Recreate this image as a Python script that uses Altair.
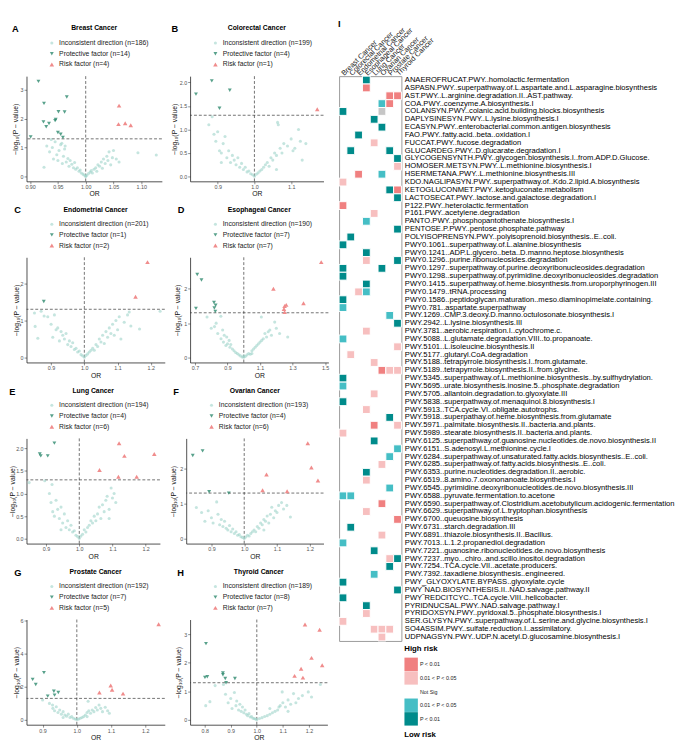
import altair as alt
import pandas as pd
import numpy as np

CANCERS = ["Breast Cancer", "Colorectal Cancer", "Endometrial Cancer", "Esophageal Cancer",
           "Lung Cancer", "Ovarian Cancer", "Prostate Cancer", "Thyroid Cancer"]
LETTERS = ["A", "B", "C", "D", "E", "F", "G", "H"]
N_INC = [186, 199, 201, 190, 194, 193, 192, 189]
N_PROT = [14, 4, 1, 7, 4, 4, 7, 8]
N_RISK = [4, 1, 2, 7, 6, 6, 5, 7]
P_THRESHOLD = 0.05

# ---------------- volcano data: (OR, -log10 P) ----------------
A_PROT = [(0.915, 3.29), (0.925, 2.53), (0.966, 2.75), (0.951, 2.24), (0.962, 2.23), (0.924, 1.89),
          (0.934, 1.83), (0.929, 1.72), (0.946, 1.97), (0.945, 1.93), (0.950, 1.52), (0.955, 1.46),
          (0.959, 1.35), (0.901, 1.37)]
A_RISK = [(1.060, 2.45), (1.059, 1.81), (1.071, 1.84), (1.081, 1.77)]
A_INC = [(0.93, 1.05), (0.935, 0.85), (0.94, 1.0), (0.942, 0.6), (0.945, 1.2), (0.948, 0.75), (0.95, 0.55),
         (0.952, 0.9), (0.955, 1.1), (0.958, 0.45), (0.96, 0.7), (0.962, 0.95), (0.965, 0.5), (0.968, 0.62),
         (0.97, 0.35), (0.972, 0.55), (0.975, 0.42), (0.978, 0.3), (0.98, 0.48), (0.982, 0.25), (0.985, 0.3),
         (0.988, 0.18), (0.99, 0.22), (0.992, 0.12), (0.995, 0.08), (0.997, 0.05), (1.0, 0.02), (1.002, 0.04),
         (1.005, 0.1), (1.008, 0.15), (1.01, 0.2), (1.012, 0.12), (1.015, 0.25), (1.018, 0.3), (1.02, 0.18),
         (1.022, 0.4), (1.025, 0.35), (1.028, 0.5), (1.03, 0.28), (1.032, 0.6), (1.035, 0.45), (1.038, 0.7),
         (1.04, 0.55), (1.042, 0.85), (1.045, 0.4), (1.048, 0.65), (1.05, 0.9), (1.055, 0.6), (1.06, 0.5),
         (1.094, 0.82), (1.127, 0.74), (0.925, 0.32), (0.938, 1.28), (1.0, 0.0), (0.957, 1.15), (0.963, 1.05)]

B_PROT = [(0.841, 1.75), (0.884, 2.03), (0.933, 1.83), (0.905, 1.45)]
B_RISK = [(1.171, 1.43)]
B_INC = [(0.885, 1.27), (0.876, 1.1), (0.89, 0.9), (0.895, 0.75), (0.9, 0.95), (0.905, 0.55), (0.91, 0.5),
         (0.915, 0.7), (0.92, 0.85), (0.925, 0.4), (0.93, 0.55), (0.935, 0.3), (0.94, 0.45), (0.945, 0.35),
         (0.95, 0.25), (0.955, 0.4), (0.96, 0.2), (0.965, 0.28), (0.97, 0.15), (0.975, 0.2), (0.98, 0.1),
         (0.985, 0.12), (0.99, 0.06), (0.995, 0.04), (1.0, 0.01), (1.005, 0.05), (1.01, 0.08), (1.015, 0.12),
         (1.02, 0.15), (1.025, 0.2), (1.03, 0.25), (1.035, 0.3), (1.04, 0.22), (1.045, 0.4), (1.05, 0.35),
         (1.055, 0.5), (1.06, 0.45), (1.063, 1.15), (1.065, 1.1), (1.07, 0.6), (1.075, 0.5), (1.08, 0.7),
         (1.09, 0.65), (1.1, 0.8), (1.105, 0.55), (1.11, 0.6), (1.12, 1.0), (1.125, 0.75), (1.14, 0.7),
         (1.13, 0.35), (1.06, 0.15), (0.91, 0.3)]

C_PROT = [(0.878, 1.51)]
C_RISK = [(1.19, 2.57), (1.154, 1.64)]
C_INC = [(0.85, 1.2), (0.852, 0.84), (0.86, 0.52), (0.87, 1.25), (0.879, 1.12), (0.89, 1.1), (0.9, 0.9),
         (0.905, 0.55), (0.91, 1.15), (0.915, 0.75), (0.92, 0.8), (0.925, 0.45), (0.93, 0.7), (0.935, 0.6),
         (0.94, 0.5), (0.945, 0.65), (0.95, 0.35), (0.955, 0.45), (0.96, 0.3), (0.965, 0.4), (0.97, 0.22),
         (0.975, 0.25), (0.98, 0.15), (0.985, 0.18), (0.99, 0.08), (0.995, 0.05), (1.0, 0.01), (1.005, 0.06),
         (1.01, 0.1), (1.015, 0.15), (1.02, 0.2), (1.025, 0.25), (1.03, 0.2), (1.035, 0.35), (1.04, 0.3),
         (1.045, 0.5), (1.05, 0.42), (1.055, 0.6), (1.06, 0.38), (1.065, 0.7), (1.07, 0.55), (1.075, 0.8),
         (1.08, 0.65), (1.085, 0.9), (1.09, 0.6), (1.095, 1.0), (1.1, 0.75), (1.105, 1.1), (1.11, 0.5),
         (1.12, 0.95), (1.13, 1.15), (1.135, 1.23), (1.14, 0.85), (1.166, 0.77), (1.228, 1.25)]

D_PROT = [(0.714, 2.41), (0.74, 2.25), (0.706, 1.43), (0.817, 1.6), (0.827, 1.52), (0.819, 1.44), (0.825, 1.34)]
D_RISK = [(1.476, 2.77), (1.182, 2.0), (1.367, 1.58), (1.261, 1.53), (1.251, 1.5), (1.247, 1.41), (1.251, 1.32)]
D_INC = [(0.774, 1.18), (0.8, 0.85), (0.82, 0.9), (0.83, 1.0), (0.84, 0.7), (0.859, 1.2), (0.86, 0.55),
         (0.87, 0.8), (0.875, 0.45), (0.88, 0.65), (0.89, 0.35), (0.895, 0.6), (0.9, 0.4), (0.91, 0.5),
         (0.915, 0.3), (0.92, 0.38), (0.93, 0.25), (0.94, 0.2), (0.95, 0.15), (0.96, 0.12), (0.97, 0.08),
         (0.98, 0.05), (0.99, 0.02), (1.0, 0.01), (1.01, 0.04), (1.02, 0.08), (1.03, 0.12), (1.04, 0.1),
         (1.05, 0.2), (1.06, 0.25), (1.07, 0.3), (1.08, 0.35), (1.09, 0.4), (1.1, 0.45), (1.108, 1.18),
         (1.11, 0.5), (1.12, 0.55), (1.13, 0.7), (1.14, 0.6), (1.15, 0.75), (1.16, 0.8), (1.17, 0.65),
         (1.19, 1.03), (1.2, 0.85), (1.22, 0.7), (1.27, 0.6), (1.0, 0.05), (1.05, 0.12)]

E_PROT = [(0.925, 2.11), (0.881, 1.87), (0.884, 1.83), (0.905, 1.83)]
E_RISK = [(1.12, 2.11), (1.136, 1.83), (1.226, 1.87), (1.061, 1.52), (1.118, 1.37), (1.173, 1.37)]
E_INC = [(0.849, 1.24), (0.896, 1.28), (0.918, 1.2), (0.91, 1.0), (0.915, 0.8), (0.92, 0.6), (0.925, 0.5),
         (0.93, 0.85), (0.935, 0.65), (0.94, 0.45), (0.945, 0.7), (0.95, 0.35), (0.955, 0.55), (0.96, 0.25),
         (0.965, 0.4), (0.97, 0.2), (0.975, 0.3), (0.98, 0.15), (0.985, 0.18), (0.99, 0.08), (0.995, 0.05),
         (1.0, 0.01), (1.005, 0.06), (1.01, 0.1), (1.015, 0.2), (1.02, 0.15), (1.025, 0.25), (1.03, 0.3),
         (1.035, 0.4), (1.04, 0.35), (1.045, 0.5), (1.05, 0.4), (1.055, 0.55), (1.06, 0.7), (1.065, 0.45),
         (1.07, 0.75), (1.075, 0.6), (1.08, 0.85), (1.084, 0.94), (1.09, 0.65), (1.096, 1.12), (1.1, 0.9),
         (1.105, 1.0), (1.11, 0.8), (1.09, 0.45), (0.945, 0.2)]

F_PROT = [(0.843, 2.37), (0.873, 2.5), (0.893, 1.34), (0.953, 1.30)]
F_RISK = [(1.194, 2.72), (1.205, 2.03), (1.225, 1.66), (1.068, 1.83), (1.056, 1.38), (1.131, 1.35)]
F_INC = [(0.854, 0.89), (0.87, 0.75), (0.88, 0.5), (0.89, 0.8), (0.9, 0.6), (0.905, 0.45), (0.916, 1.05),
         (0.92, 0.7), (0.925, 0.4), (0.93, 0.55), (0.935, 0.35), (0.94, 0.5), (0.945, 0.3), (0.95, 0.25),
         (0.955, 0.38), (0.96, 0.2), (0.965, 0.28), (0.97, 0.15), (0.975, 0.2), (0.98, 0.1), (0.985, 0.12),
         (0.99, 0.06), (0.995, 0.04), (1.0, 0.01), (1.005, 0.05), (1.01, 0.1), (1.015, 0.08), (1.02, 0.15),
         (1.025, 0.2), (1.03, 0.25), (1.035, 0.2), (1.04, 0.35), (1.045, 0.3), (1.05, 0.45), (1.055, 0.4),
         (1.06, 0.55), (1.065, 0.5), (1.07, 0.65), (1.075, 0.45), (1.08, 0.7), (1.084, 0.9), (1.09, 0.6),
         (1.095, 0.8), (1.1, 0.75), (1.105, 0.95), (1.114, 1.03), (1.12, 0.85), (1.13, 0.95), (1.141, 0.62),
         (1.06, 0.25)]

G_PROT = [(0.871, 2.45), (0.880, 2.14), (0.904, 2.86), (0.915, 1.44), (0.933, 1.73), (0.935, 1.5), (0.946, 1.66)]
G_RISK = [(1.239, 5.78), (1.099, 2.08), (1.103, 1.82), (1.066, 1.66), (1.135, 1.59)]
G_INC = [(0.9, 1.2), (0.92, 1.0), (0.929, 0.9), (0.93, 0.7), (0.935, 0.55), (0.94, 0.8), (0.945, 0.45),
         (0.95, 0.6), (0.955, 0.35), (0.96, 0.5), (0.965, 0.3), (0.97, 0.22), (0.975, 0.35), (0.98, 0.15),
         (0.985, 0.2), (0.99, 0.1), (0.995, 0.06), (1.0, 0.02), (1.005, 0.05), (1.01, 0.1), (1.015, 0.15),
         (1.02, 0.2), (1.025, 0.3), (1.03, 0.45), (1.033, 1.13), (1.035, 0.55), (1.04, 0.4), (1.045, 0.6),
         (1.05, 0.5), (1.055, 0.75), (1.06, 0.6), (1.065, 0.9), (1.07, 0.7), (1.075, 0.5), (1.083, 0.77),
         (1.09, 0.55), (1.095, 0.4), (1.03, 0.2), (0.96, 0.15)]

H_PROT = [(0.805, 2.67), (0.801, 1.49), (0.81, 1.51), (0.87, 1.64), (0.87, 1.58), (0.879, 1.45),
          (0.882, 1.30), (0.916, 1.45)]
H_RISK = [(1.185, 3.34), (1.241, 3.15), (1.21, 2.17), (1.251, 1.91), (1.17, 1.79), (1.145, 1.54), (1.177, 1.48)]
H_INC = [(0.804, 0.5), (0.82, 0.64), (0.84, 1.2), (0.872, 1.24), (0.88, 0.9), (0.89, 0.6), (0.9, 0.75),
         (0.905, 0.4), (0.914, 0.96), (0.92, 0.5), (0.923, 0.66), (0.93, 0.35), (0.935, 0.55), (0.94, 0.3),
         (0.945, 0.45), (0.95, 0.25), (0.955, 0.35), (0.96, 0.2), (0.965, 0.15), (0.97, 0.22), (0.975, 0.1),
         (0.98, 0.12), (0.985, 0.06), (0.99, 0.05), (0.995, 0.03), (1.0, 0.01), (1.01, 0.05), (1.02, 0.08),
         (1.03, 0.12), (1.04, 0.15), (1.05, 0.2), (1.06, 0.25), (1.07, 0.3), (1.08, 0.35), (1.085, 0.45),
         (1.09, 0.5), (1.0975, 0.98), (1.1, 0.6), (1.11, 0.45), (1.12, 0.7), (1.13, 0.55), (1.141, 0.92),
         (1.15, 0.6), (1.16, 0.75), (1.175, 0.85), (1.1975, 0.98), (1.21, 0.8), (1.244, 1.24), (1.05, 0.4),
         (1.12, 0.3)]

PANEL_DATA = [(A_INC, A_PROT, A_RISK), (B_INC, B_PROT, B_RISK), (C_INC, C_PROT, C_RISK),
              (D_INC, D_PROT, D_RISK), (E_INC, E_PROT, E_RISK), (F_INC, F_PROT, F_RISK),
              (G_INC, G_PROT, G_RISK), (H_INC, H_PROT, H_RISK)]

X_DOMAIN = [[0.8935, 1.137], [0.825, 1.188], [0.826, 1.242], [0.67, 1.52],
            [0.841, 1.243], [0.823, 1.242], [0.853, 1.257], [0.744, 1.271]]
X_TICKS = [[0.90, 0.95, 1.00, 1.05, 1.10], [0.9, 1.0, 1.1], [0.9, 1.0, 1.1, 1.2], [0.7, 0.9, 1.1, 1.3, 1.5],
           [0.9, 1.0, 1.1, 1.2], [0.9, 1.0, 1.1, 1.2], [0.9, 1.0, 1.1, 1.2], [0.8, 0.9, 1.0, 1.1, 1.2]]
X_FMT = [".2f", ".1f", ".1f", ".1f", ".1f", ".1f", ".1f", ".1f"]
Y_DOMAIN = [[-0.17, 3.47], [-0.1, 2.13], [-0.13, 2.70], [-0.14, 2.91],
            [-0.105, 2.215], [-0.136, 2.856], [-0.29, 6.07], [-0.167, 3.51]]
Y_TICKS = [[0, 1, 2, 3], [0, 0.5, 1.0, 1.5, 2.0], [0, 1, 2], [0, 1, 2],
           [0, 0.5, 1.0, 1.5, 2.0], [0, 1, 2], [0, 2, 4, 6], [0, 1, 2, 3]]
Y_FMT = ["d", ".1f", "d", "d", ".1f", "d", "d", "d"]

# layout (pixels)
PW = [139, 137, 142, 142, 137, 141, 142, 141]
PH = 108
LETTER_X = [-15, -19, -12.7, -12.6, -17.7, -13.3, -12.7, -13.3]
YTITLE_X = [-11, -15.7, -10.7, -12.6, -14, -13.3, -10.7, -12.3]

COL_INC, COL_PROT, COL_RISK = "#9fd3ca", "#2e8a6e", "#f08c8c"


def volcano(i):
    inc, prot, risk = PANEL_DATA[i]
    labs = [f"Inconsistent direction (n={N_INC[i]})", f"Protective factor (n={N_PROT[i]})",
            f"Risk factor (n={N_RISK[i]})"]
    recs = ([{"OR": o, "nlp": v, "cls": labs[0]} for o, v in inc]
            + [{"OR": o, "nlp": v, "cls": labs[1]} for o, v in prot]
            + [{"OR": o, "nlp": v, "cls": labs[2]} for o, v in risk])
    df = pd.DataFrame(recs)
    W, H = PW[i], PH
    xenc = alt.X("OR:Q", scale=alt.Scale(domain=X_DOMAIN[i], nice=False, zero=False),
                 axis=alt.Axis(values=X_TICKS[i], format=X_FMT[i], title="OR", titleFontSize=7,
                               titleFontWeight="normal", titleColor="#111", titleY=13, titleBaseline="middle",
                               labelFontSize=5.5, labelColor="#555", labelPadding=1, tickSize=2.5,
                               tickColor="#444", tickWidth=0.6, domainColor="#222", domainWidth=0.8,
                               grid=False))
    yenc = alt.Y("nlp:Q", scale=alt.Scale(domain=Y_DOMAIN[i], nice=False, zero=False),
                 axis=alt.Axis(values=Y_TICKS[i], format=Y_FMT[i], title="−log₁₀(P − value)",
                               titleFontSize=7, titleFontWeight="normal", titleColor="#111",
                               titleX=YTITLE_X[i], titleY=H / 2, titleBaseline="middle",
                               labelFontSize=5.5, labelColor="#555", labelPadding=1, tickSize=2.5,
                               tickColor="#444", tickWidth=0.6, domainColor="#222", domainWidth=0.8,
                               grid=False))
    leg = alt.Legend(orient="none", legendX=22.5, legendY=-37.5, title=None, labelFontSize=7,
                     labelColor="#222", rowPadding=3, padding=0, labelOffset=4, symbolStrokeWidth=0)
    pts = alt.Chart(df).mark_point(filled=True, strokeWidth=0).encode(
        x=xenc, y=yenc,
        color=alt.Color("cls:N", scale=alt.Scale(domain=labs, range=[COL_INC, COL_PROT, COL_RISK]), legend=leg),
        shape=alt.Shape("cls:N", scale=alt.Scale(domain=labs, range=["circle", "triangle-down", "triangle-up"]),
                        legend=leg),
        size=alt.Size("cls:N", scale=alt.Scale(domain=labs, range=[10, 22, 22]), legend=leg),
        opacity=alt.Opacity("cls:N", scale=alt.Scale(domain=labs, range=[0.6, 1, 1]), legend=leg),
    )
    vr = alt.Chart(pd.DataFrame({"OR": [1.0]})).mark_rule(color="#333", strokeDash=[3, 2], strokeWidth=0.7).encode(x=xenc)
    hr = alt.Chart(pd.DataFrame({"nlp": [-np.log10(P_THRESHOLD)]})).mark_rule(
        color="#333", strokeDash=[3, 2], strokeWidth=0.7).encode(y=yenc)
    lt = alt.Chart(pd.DataFrame({"t": [LETTERS[i]]})).mark_text(
        align="left", baseline="middle", fontSize=9.5, fontWeight="bold", color="#000").encode(
        text="t:N", x=alt.value(LETTER_X[i]), y=alt.value(-48))
    tt = alt.Chart(pd.DataFrame({"t": [CANCERS[i]]})).mark_text(
        align="center", baseline="middle", fontSize=7, fontWeight="bold", color="#000").encode(
        text="t:N", x=alt.value(W / 2), y=alt.value(-49))
    return alt.layer(hr, vr, pts, lt, tt).properties(width=W, height=H)


# ---------------- heatmap data ----------------
PATHWAYS = [
    "ANAEROFRUCAT.PWY..homolactic.fermentation",
    "ASPASN.PWY..superpathway.of.L.aspartate.and.L.asparagine.biosynthesis",
    "AST.PWY..L.arginine.degradation.II..AST.pathway.",
    "COA.PWY..coenzyme.A.biosynthesis.I",
    "COLANSYN.PWY..colanic.acid.building.blocks.biosynthesis",
    "DAPLYSINESYN.PWY..L.lysine.biosynthesis.I",
    "ECASYN.PWY..enterobacterial.common.antigen.biosynthesis",
    "FAO.PWY..fatty.acid..beta..oxidation.I",
    "FUCCAT.PWY..fucose.degradation",
    "GLUCARDEG.PWY..D.glucarate.degradation.I",
    "GLYCOGENSYNTH.PWY..glycogen.biosynthesis.I..from.ADP.D.Glucose.",
    "HOMOSER.METSYN.PWY..L.methionine.biosynthesis.I",
    "HSERMETANA.PWY..L.methionine.biosynthesis.III",
    "KDO.NAGLIPASYN.PWY..superpathway.of..Kdo.2.lipid.A.biosynthesis",
    "KETOGLUCONMET.PWY..ketogluconate.metabolism",
    "LACTOSECAT.PWY..lactose.and.galactose.degradation.I",
    "P122.PWY..heterolactic.fermentation",
    "P161.PWY..acetylene.degradation",
    "PANTO.PWY..phosphopantothenate.biosynthesis.I",
    "PENTOSE.P.PWY..pentose.phosphate.pathway",
    "POLYISOPRENSYN.PWY..polyisoprenoid.biosynthesis..E..coli.",
    "PWY0.1061..superpathway.of.L.alanine.biosynthesis",
    "PWY0.1241..ADP.L.glycero..beta..D.manno.heptose.biosynthesis",
    "PWY0.1296..purine.ribonucleosides.degradation",
    "PWY0.1297..superpathway.of.purine.deoxyribonucleosides.degradation",
    "PWY0.1298..superpathway.of.pyrimidine.deoxyribonucleosides.degradation",
    "PWY0.1415..superpathway.of.heme.biosynthesis.from.uroporphyrinogen.III",
    "PWY0.1479..tRNA.processing",
    "PWY0.1586..peptidoglycan.maturation..meso.diaminopimelate.containing.",
    "PWY0.781..aspartate.superpathway",
    "PWY.1269..CMP.3.deoxy.D.manno.octulosonate.biosynthesis.I",
    "PWY.2942..L.lysine.biosynthesis.III",
    "PWY.3781..aerobic.respiration.I..cytochrome.c.",
    "PWY.5088..L.glutamate.degradation.VIII..to.propanoate.",
    "PWY.5101..L.isoleucine.biosynthesis.II",
    "PWY.5177..glutaryl.CoA.degradation",
    "PWY.5188..tetrapyrrole.biosynthesis.I..from.glutamate.",
    "PWY.5189..tetrapyrrole.biosynthesis.II..from.glycine.",
    "PWY.5345..superpathway.of.L.methionine.biosynthesis..by.sulfhydrylation.",
    "PWY.5695..urate.biosynthesis.inosine.5..phosphate.degradation",
    "PWY.5705..allantoin.degradation.to.glyoxylate.III",
    "PWY.5838..superpathway.of.menaquinol.8.biosynthesis.I",
    "PWY.5913..TCA.cycle.VI..obligate.autotrophs.",
    "PWY.5918..superpathay.of.heme.biosynthesis.from.glutamate",
    "PWY.5971..palmitate.biosynthesis.II..bacteria.and.plants.",
    "PWY.5989..stearate.biosynthesis.II..bacteria.and.plants.",
    "PWY.6125..superpathway.of.guanosine.nucleotides.de.novo.biosynthesis.II",
    "PWY.6151..S.adenosyl.L.methionine.cycle.I",
    "PWY.6284..superpathway.of.unsaturated.fatty.acids.biosynthesis..E..coli.",
    "PWY.6285..superpathway.of.fatty.acids.biosynthesis..E..coli.",
    "PWY.6353..purine.nucleotides.degradation.II..aerobic.",
    "PWY.6519..8.amino.7.oxononanoate.biosynthesis.I",
    "PWY.6545..pyrimidine.deoxyribonucleotides.de.novo.biosynthesis.III",
    "PWY.6588..pyruvate.fermentation.to.acetone",
    "PWY.6590..superpathway.of.Clostridium.acetobutylicum.acidogenic.fermentation",
    "PWY.6629..superpathway.of.L.tryptophan.biosynthesis",
    "PWY.6700..queuosine.biosynthesis",
    "PWY.6731..starch.degradation.III",
    "PWY.6891..thiazole.biosynthesis.II..Bacillus.",
    "PWY.7013..L.1.2.propanediol.degradation",
    "PWY.7221..guanosine.ribonucleotides.de.novo.biosynthesis",
    "PWY.7237..myo...chiro..and.scillo.inositol.degradation",
    "PWY.7254..TCA.cycle.VII..acetate.producers.",
    "PWY.7392..taxadiene.biosynthesis..engineered.",
    "PWY_GLYOXYLATE.BYPASS..glyoxylate.cycle",
    "PWY‾NAD.BIOSYNTHESIS.II..NAD.salvage.pathway.II",
    "PWY‾REDCITCYC..TCA.cycle.VIII..helicobacter.",
    "PYRIDNUCSAL.PWY..NAD.salvage.pathway.I",
    "PYRIDOXSYN.PWY..pyridoxal.5..phosphate.biosynthesis.I",
    "SER.GLYSYN.PWY..superpathway.of.L.serine.and.glycine.biosynthesis.I",
    "SO4ASSIM.PWY..sulfate.reduction.I..assimilatory.",
    "UDPNAGSYN.PWY..UDP.N.acetyl.D.glucosamine.biosynthesis.I",
]
# one character per cancer (column order = CANCERS)
# R: high risk P<0.01, r: high risk 0.01<P<0.05, t: low risk 0.01<P<0.05, T: low risk P<0.01, g: grey, .: empty
HEAT_CODES = [
    "...T....", "...R....", "......RR", ".....tR.", "T....g..", "....T...", ".....T..", "..T.....",
    "....r...", ".T....T.", ".......T", ".......r", "..R..t..", "r.......", "......TR", ".......T",
    "R.......", "....r...", "...t....", ".......T", ".T......", "T.......", "...T....", "...r...T",
    "T....T..", "T.......", "...T....", "..rt....", "T.......", "t.......", "......t.", ".......T",
    "...r....", "t.......", ".......r", ".r......", "....r...", ".....Rrr", "T.......", "t.......",
    "....r...", "T.......", "...r....", "......T.", "....R..r", "r.......", "....T...", ".......t",
    "......t.", ".....r..", "...T....", "...r....", "......t.", "tt......", ".....R..", "...r....",
    ".......R", ".T......", ".....r..", "t.......", "....T...", "......rT", "......T.", "....t...",
    "T.......", ".......T", "T.......", "...T....", "...r....", "r.......", "....rrr.", ".....r..",
]
CODE_DOMAIN = ["R", "r", "N", "t", "T", "g"]
CODE_COLORS = ["#f08080", "#f7bfbf", "#ffffff", "#45bec5", "#008b8b", "#c6c6c6"]

heat_recs = []
for p, codes in zip(PATHWAYS, HEAT_CODES):
    for c, ch in zip(CANCERS, codes):
        if ch != ".":
            heat_recs.append({"pathway": p, "cancer": c, "code": ch})
heat_df = pd.DataFrame(heat_recs)

HW = 64
HH = 580

heat_rect = alt.Chart(heat_df).mark_rect(stroke="white", strokeWidth=1).encode(
    x=alt.X("cancer:N", sort=CANCERS, scale=alt.Scale(domain=CANCERS, paddingInner=0, paddingOuter=0),
            axis=alt.Axis(orient="top", title=None, labelAngle=-45, labelAlign="left",
                          labelBaseline="middle", labelFontSize=7.5, labelColor="#222", ticks=False,
                          domain=False, labelPadding=2)),
    y=alt.Y("pathway:N", sort=PATHWAYS, scale=alt.Scale(domain=PATHWAYS, paddingInner=0, paddingOuter=0),
            axis=alt.Axis(orient="right", title=None, labelFontSize=7.8, labelColor="#000", ticks=False,
                          domain=False, labelPadding=3, labelLimit=400)),
    color=alt.Color("code:N", scale=alt.Scale(domain=CODE_DOMAIN, range=CODE_COLORS),
                    legend=alt.Legend(orient="none", legendX=67, legendY=HH + 4, title="High risk",
                                      titleFontSize=8, titleFontWeight="bold", titleColor="#000",
                                      titlePadding=5, symbolType="square", symbolSize=190,
                                      symbolStrokeWidth=0, labelFontSize=5.5, labelColor="#222",
                                      labelOffset=2, rowPadding=0, padding=0,
                                      values=["R", "r", "N", "t", "T"],
                                      labelExpr="datum.value == 'N' ? 'Not Sig' : (datum.value == 'R' || datum.value == 'T') ? 'P < 0.01' : '0.01 < P < 0.05'")),
)
low_txt = alt.Chart(pd.DataFrame({"t": ["Low risk"]})).mark_text(
    align="left", baseline="middle", fontSize=8, fontWeight="bold", color="#000").encode(
    text="t:N", x=alt.value(67), y=alt.value(HH + 97))
i_txt = alt.Chart(pd.DataFrame({"t": ["I"]})).mark_text(
    align="left", baseline="middle", fontSize=9.5, fontWeight="bold", color="#000").encode(
    text="t:N", x=alt.value(-1), y=alt.value(-53))

heat = alt.layer(heat_rect, low_txt, i_txt).properties(
    width=HW, height=HH, view=alt.ViewBackground(stroke="#999999", strokeWidth=1))

RES = dict(color="independent", shape="independent", size="independent", opacity="independent")

rows = []
for r in range(4):
    rows.append(alt.hconcat(volcano(2 * r), volcano(2 * r + 1), spacing=8).resolve_scale(**RES))
left = alt.vconcat(*rows, spacing=9).resolve_scale(**RES)

chart = alt.hconcat(left, heat, spacing=8).resolve_scale(**RES).properties(
    padding=1).configure(font="Liberation Sans").configure_view(strokeWidth=0)

chart.save("out.html", embed_options={"renderer": "svg", "actions": False})
